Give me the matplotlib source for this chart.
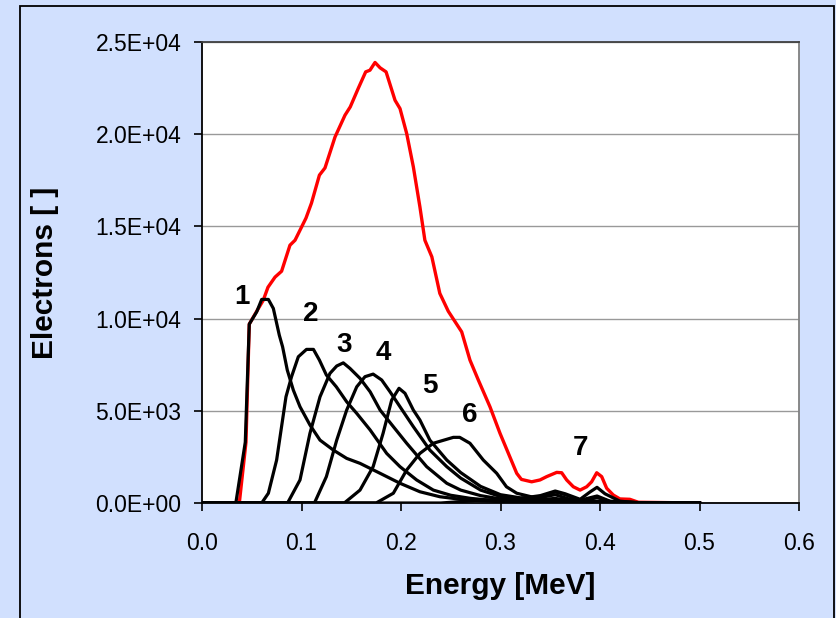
import matplotlib
matplotlib.use('Agg')
import matplotlib.pyplot as plt
from matplotlib.patches import Rectangle
from matplotlib.ticker import FormatStrFormatter

plt.rcParams['font.family'] = ['Liberation Sans', 'DejaVu Sans']

# total spectrum (red)
e_tot = [0.0, 0.0375, 0.0442, 0.0475, 0.055, 0.0616, 0.0663, 0.0734, 0.080, 0.0884,
         0.0935, 0.1045, 0.110, 0.118, 0.1236, 0.1337, 0.1437, 0.149, 0.157, 0.1645,
         0.1688, 0.1739, 0.179, 0.185, 0.194, 0.199, 0.2057, 0.2124, 0.219, 0.224,
         0.231, 0.239, 0.2475, 0.261, 0.2693, 0.2777, 0.2894, 0.2995, 0.3163, 0.321,
         0.3313, 0.3397, 0.3464, 0.3565, 0.3615, 0.3665, 0.3732, 0.38, 0.3866, 0.3916,
         0.3967, 0.4017, 0.4067, 0.4134, 0.42, 0.43, 0.4385, 0.5]
n_tot = [0, 0, 3300, 9700, 10400, 11000, 11700, 12250, 12570, 13980,
         14250, 15450, 16260, 17780, 18170, 19850, 21030, 21480, 22480, 23380,
         23470, 23890, 23600, 23380, 21840, 21390, 20040, 18230, 16060, 14250,
         13350, 11370, 10400, 9280, 7750, 6670, 5220, 3780, 1610, 1280,
         1150, 1250, 1430, 1660, 1640, 1250, 880, 700, 880, 1150,
         1640, 1430, 800, 430, 220, 200, 40, 0]

# individual spectra 1..7 (black)
e1 = [0.0, 0.034, 0.0435, 0.0475, 0.055, 0.060, 0.0667, 0.0717, 0.0777, 0.081, 0.0857,
      0.0918, 0.0985, 0.1085, 0.1186, 0.132, 0.1454, 0.1588, 0.179, 0.199, 0.219,
      0.239, 0.26, 0.28, 0.30, 0.33, 0.36, 0.40, 0.45, 0.5]
n1 = [0, 0, 3300, 9700, 10370, 11040, 11040, 10550, 9100, 8470, 7210,
      6120, 5220, 4230, 3410, 2870, 2420, 2150, 1610, 1070, 610,
      340, 200, 120, 80, 50, 30, 20, 0, 0]

e2 = [0.0, 0.06, 0.0667, 0.075, 0.0844, 0.090, 0.0968, 0.105, 0.112, 0.118, 0.125,
      0.135, 0.1454, 0.1555, 0.169, 0.1856, 0.199, 0.2157, 0.2325, 0.25, 0.27,
      0.29, 0.31, 0.34, 0.37, 0.40, 0.45, 0.5]
n2 = [0, 0, 530, 2330, 5760, 6850, 7930, 8330, 8330, 7750, 6940,
      6300, 5490, 4860, 3960, 2690, 1970, 1250, 700, 420, 250,
      150, 100, 60, 40, 30, 0, 0]

e3 = [0.0, 0.086, 0.0985, 0.1085, 0.1186, 0.1286, 0.1354, 0.142, 0.1487, 0.1588,
      0.169, 0.179, 0.1923, 0.2057, 0.2258, 0.246, 0.26, 0.28, 0.30, 0.32,
      0.35, 0.38, 0.40, 0.45, 0.5]
n3 = [0, 0, 1250, 3780, 5760, 7030, 7430, 7600, 7300, 6760,
      6030, 5040, 4140, 3240, 1970, 1070, 700, 400, 220, 130,
      100, 60, 40, 0, 0]

e4 = [0.0, 0.113, 0.125, 0.1354, 0.1454, 0.1555, 0.1638, 0.172, 0.1806, 0.189,
      0.199, 0.2124, 0.229, 0.246, 0.26, 0.28, 0.30, 0.32, 0.34, 0.355,
      0.37, 0.40, 0.45, 0.5]
n4 = [0, 0, 1430, 3410, 5040, 6300, 6850, 6990, 6670, 6030,
      5220, 4140, 2870, 1970, 1350, 700, 350, 200, 180, 250,
      120, 100, 0, 0]

e5 = [0.0, 0.143, 0.1588, 0.172, 0.182, 0.1906, 0.198, 0.204, 0.2124, 0.219,
      0.229, 0.246, 0.26, 0.28, 0.30, 0.32, 0.34, 0.355, 0.37, 0.385,
      0.397, 0.41, 0.45, 0.5]
n5 = [0, 0, 700, 1970, 3780, 5580, 6220, 5950, 5040, 4500,
      3410, 2330, 1650, 900, 450, 280, 300, 450, 200, 120,
      300, 80, 0, 0]

e6 = [0.0, 0.175, 0.1923, 0.2057, 0.219, 0.2325, 0.2526, 0.259, 0.2693, 0.2827,
      0.2962, 0.306, 0.3163, 0.333, 0.345, 0.355, 0.365, 0.38, 0.397, 0.41,
      0.43, 0.45, 0.5]
n6 = [0, 0, 530, 1790, 2690, 3240, 3560, 3560, 3240, 2330,
      1610, 880, 530, 310, 400, 600, 450, 150, 380, 100,
      30, 0, 0]

e7 = [0.0, 0.24, 0.28, 0.32, 0.34, 0.355, 0.365, 0.38, 0.39, 0.397, 0.405, 0.42, 0.44, 0.5]
n7 = [0, 0, 150, 250, 400, 650, 500, 200, 600, 850, 500, 100, 0, 0]

labels = ['1', '2', '3', '4', '5', '6', '7']
label_x = [0.040, 0.1095, 0.1427, 0.182, 0.229, 0.269, 0.38]
label_y = [11170, 10240, 8560, 8130, 6340, 4770, 2990]

bg = '#D1E0FE'
fig = plt.figure(figsize=(8.36, 6.18), dpi=100, facecolor=bg)
fig.patches.append(Rectangle((20 / 836, -0.02), 814 / 836, 1.02 - 6 / 618,
                             transform=fig.transFigure, fill=False,
                             edgecolor='black', lw=1.3))
ax = fig.add_axes([202 / 836, 115 / 618, 597 / 836, 461 / 618])
ax.set_facecolor('white')

ax.plot(e_tot, n_tot, color='red', lw=2.4, zorder=2)
for e, n in [(e1, n1), (e2, n2), (e3, n3), (e4, n4), (e5, n5), (e6, n6), (e7, n7)]:
    ax.plot(e, n, color='black', lw=2.3, zorder=3)

for t, x, y in zip(labels, label_x, label_y):
    ax.text(x, y, t, fontsize=20, fontweight='bold', ha='center', va='center')

ax.set_xlim(0, 0.6)
ax.set_ylim(0, 25000)
ax.set_xticks([0.0, 0.1, 0.2, 0.3, 0.4, 0.5, 0.6])
ax.set_yticks([0, 5000, 10000, 15000, 20000, 25000])
ax.xaxis.set_major_formatter(FormatStrFormatter('%.1f'))
ax.yaxis.set_major_formatter(FormatStrFormatter('%.1E'))
ax.tick_params(axis='both', direction='out', length=6, width=1.2, labelsize=16.5,
               colors='black')
ax.tick_params(axis='y', pad=9)
ax.tick_params(axis='x', pad=15)
ax.yaxis.grid(True, color='#999999', lw=1.0)
ax.set_axisbelow(True)

ax.spines['left'].set_color('black')
ax.spines['bottom'].set_color('black')
ax.spines['left'].set_linewidth(1.3)
ax.spines['bottom'].set_linewidth(1.3)
ax.spines['top'].set_color('#404040')
ax.spines['right'].set_color('#808080')
ax.spines['top'].set_linewidth(1.3)
ax.spines['right'].set_linewidth(1.3)

ax.set_xlabel('Energy [MeV]', fontsize=21.5, fontweight='bold')
ax.set_ylabel('Electrons [ ]', fontsize=21.5, fontweight='bold')
ax.xaxis.set_label_coords(0.5, -0.15)
ax.yaxis.set_label_coords(-0.24, 0.5)

plt.savefig('out.png', dpi=100, facecolor=bg)
